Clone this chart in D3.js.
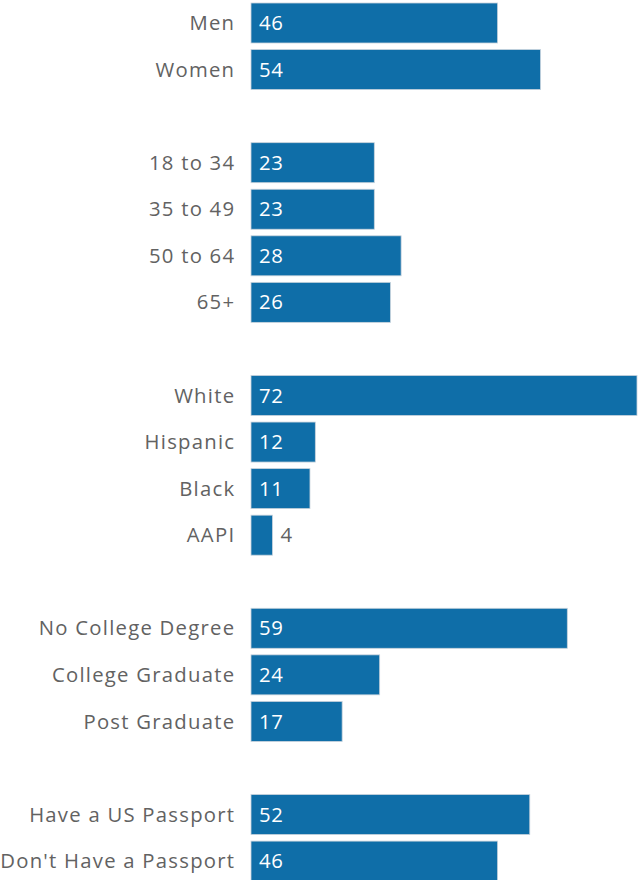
<!DOCTYPE html>
<html><head><meta charset="utf-8">
<script src="https://cdn.jsdelivr.net/npm/d3@7"></script>
<style>body{margin:0;background:#fff}svg{display:block}</style>
</head><body>
<script>
const categories = ["Men","Women","","18 to 34","35 to 49","50 to 64","65+","","White","Hispanic","Black","AAPI","","No College Degree","College Graduate","Post Graduate","","Have a US Passport","Don't Have a Passport"];
const values = [46,54,null,23,23,28,26,null,72,12,11,4,null,59,24,17,null,52,46];

const W=640,H=880;
const svg=d3.select("body").append("svg").attr("width",W).attr("height",H);
const rows=categories.map((c,i)=>({key:i,label:c,value:values[i]}));
const y=d3.scaleBand().domain(rows.map(d=>d.key)).range([3,881.1]).paddingInner(0.141).paddingOuter(0);
const x=d3.scaleLinear().domain([0,72]).range([251,637]);
const data=rows.filter(d=>d.value!==null);
const font="'Open Sans', sans-serif";

svg.selectAll("rect.bar").data(data).join("rect").attr("class","bar")
 .attr("x",x(0)).attr("y",d=>y(d.key)).attr("width",d=>x(d.value)-x(0)).attr("height",y.bandwidth())
 .attr("fill","#0f6ea8").attr("stroke","#c8d3dc").attr("stroke-width",0.8);

svg.selectAll("text.cat").data(data).join("text").attr("class","cat")
 .attr("x",235.3).attr("y",d=>y(d.key)+y.bandwidth()/2).attr("dy","0.35em")
 .attr("text-anchor","end").attr("font-family",font).attr("font-size",20.3).attr("letter-spacing","1.25px")
 .attr("fill","#626262")
 .text(d=>d.label);

svg.selectAll("text.val").data(data).join("text").attr("class","val")
 .attr("x",d=>(x(d.value)-x(0))>40? x(0)+8 : x(d.value)+8)
 .attr("y",d=>y(d.key)+y.bandwidth()/2).attr("dy","0.35em")
 .attr("font-family",font).attr("font-size",20.3).attr("letter-spacing","0.6px")
 .attr("fill",d=>(x(d.value)-x(0))>40?"#ffffff":"#606060")
 .text(d=>d.value);
</script>
</body></html>
